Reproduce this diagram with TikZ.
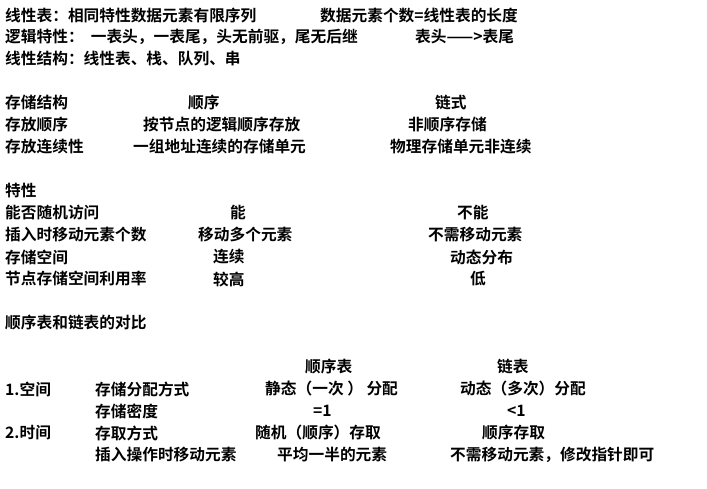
\documentclass[tikz,border=0pt]{standalone}
\usepackage{fontspec}
\setmainfont{Noto Sans CJK SC Bold}
\begin{document}
\begin{tikzpicture}[x=1pt,y=-1pt,t/.style={anchor=west,inner sep=0pt,font=\fontsize{15.7}{17}\selectfont}]
\useasboundingbox (0,0) rectangle (707,489);
\node[t] (a1) at (5,16) {线性表：相同特性数据元素有限序列};
\node[t] (a2) at (320,16) {数据元素个数=线性表的长度};
\node[t] (b1) at (5,37) {逻辑特性：\ \ 一表头，一表尾，头无前驱，尾无后继};
\node[t] (b2) at (415,37) {表头——>表尾};
\node[t] (c1) at (5,59) {线性结构：线性表、栈、队列、串};
\node[t] (d1) at (5,103) {存储结构};
\node[t] (d2) at (188,103) {顺序};
\node[t] (d3) at (435,103) {链式};
\node[t] (e1) at (5,125) {存放顺序};
\node[t] (e2) at (143,125) {按节点的逻辑顺序存放};
\node[t] (e3) at (408,125) {非顺序存储};
\node[t] (f1) at (5,147) {存放连续性};
\node[t] (f2) at (133,147) {一组地址连续的存储单元};
\node[t] (f3) at (390,147) {物理存储单元非连续};
\node[t] (g1) at (5,191) {特性};
\node[t] (h1) at (5,213) {能否随机访问};
\node[t] (h2) at (230,213) {能};
\node[t] (h3) at (457,213) {不能};
\node[t] (i1) at (5,235) {插入时移动元素个数};
\node[t] (i2) at (198,235) {移动多个元素};
\node[t] (i3) at (428,235) {不需移动元素};
\node[t] (j1) at (5,257) {存储空间};
\node[t] (j2) at (213,257) {连续};
\node[t] (j3) at (450,257) {动态分布};
\node[t] (k1) at (5,279) {节点存储空间利用率};
\node[t] (k2) at (213,279) {较高};
\node[t] (k3) at (470,279) {低};
\node[t] (l1) at (5,323) {顺序表和链表的对比};
\node[t] (m2) at (305,367) {顺序表};
\node[t] (m3) at (497,367) {链表};
\node[t] (n0) at (5,389) {1.空间};
\node[t] (n1) at (95,389) {存储分配方式};
\node[t] (n2) at (265,389) {静态（一次 ） 分配};
\node[t] (n3) at (460,389) {动态（多次）分配};
\node[t] (o1) at (95,411) {存储密度};
\node[t] (o2) at (313,411) {=1};
\node[t] (o3) at (507,411) {<1};
\node[t] (p0) at (5,433) {2.时间};
\node[t] (p1) at (95,433) {存取方式};
\node[t] (p2) at (255,433) {随机（顺序）存取};
\node[t] (p3) at (482,433) {顺序存取};
\node[t] (q1) at (95,455) {插入操作时移动元素};
\node[t] (q2) at (277,455) {平均一半的元素};
\node[t] (q3) at (450,455) {不需移动元素，修改指针即可};
\end{tikzpicture}
\end{document}
